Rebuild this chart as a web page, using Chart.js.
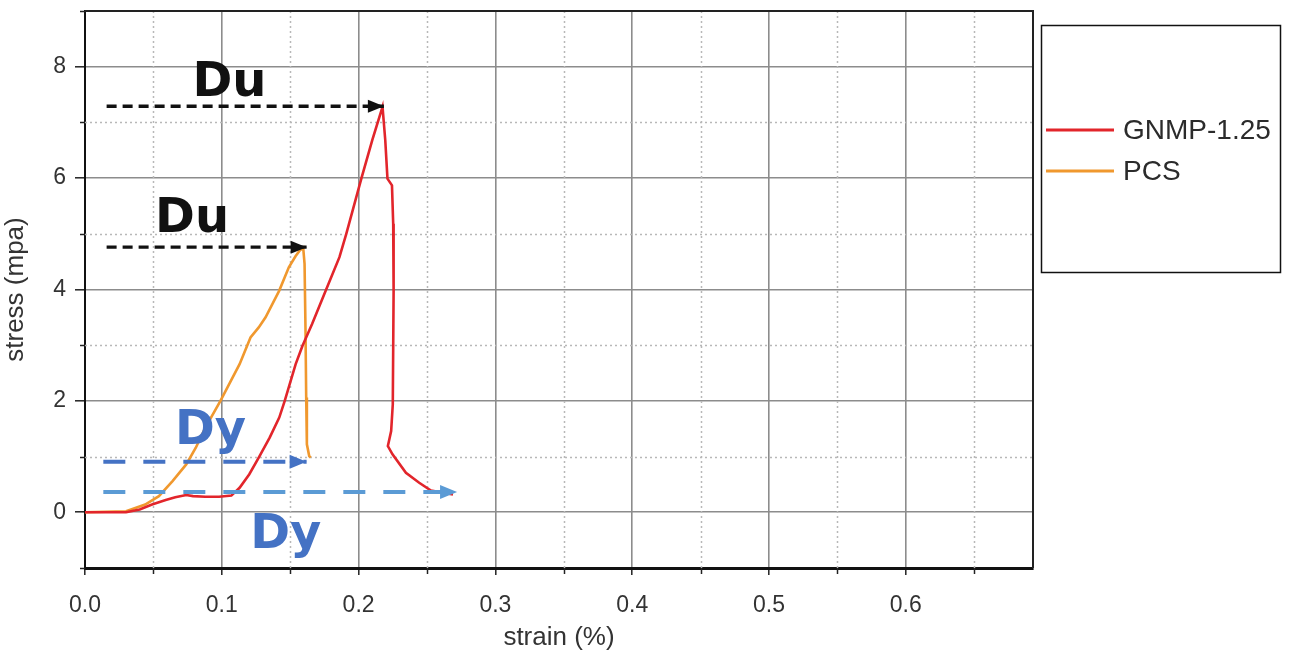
<!DOCTYPE html>
<html><head><meta charset="utf-8">
<script src="https://cdn.jsdelivr.net/npm/chart.js@4.4.1/dist/chart.umd.min.js"></script>
<style>html,body{margin:0;padding:0;background:#fff;}#wrap{width:1296px;height:653px;position:relative;}</style>
</head><body><div id="wrap"><canvas id="c"></canvas></div>
<script>
// ---- data ----
const seriesNames = ['GNMP-1.25', 'PCS'];
const gnmpStrain = [0, 0.030, 0.040, 0.049, 0.059, 0.066, 0.074, 0.079, 0.088, 0.098, 0.107, 0.113, 0.120, 0.127, 0.135, 0.142, 0.146, 0.154, 0.159, 0.166, 0.176, 0.186, 0.191, 0.202, 0.210, 0.2175, 0.2195, 0.2211, 0.2244, 0.2253, 0.2256, 0.2250, 0.2238, 0.2214, 0.2248, 0.2346, 0.2443, 0.2529, 0.2690];
const gnmpStress = [0, 0, 0.05, 0.14, 0.22, 0.27, 0.31, 0.29, 0.28, 0.28, 0.30, 0.44, 0.68, 0.98, 1.34, 1.70, 2.00, 2.66, 2.99, 3.38, 3.98, 4.58, 5.00, 5.99, 6.68, 7.28, 6.68, 5.99, 5.87, 5.18, 3.98, 1.94, 1.46, 1.19, 1.04, 0.71, 0.53, 0.39, 0.32];
const pcsStrain = [0, 0.030, 0.044, 0.054, 0.064, 0.074, 0.081, 0.088, 0.099, 0.113, 0.121, 0.127, 0.132, 0.142, 0.149, 0.154, 0.157, 0.1595, 0.1605, 0.1612, 0.1617, 0.1622, 0.1639, 0.165];
const pcsStress = [0, 0.02, 0.14, 0.29, 0.56, 0.86, 1.16, 1.52, 2.00, 2.66, 3.14, 3.32, 3.50, 3.98, 4.40, 4.60, 4.70, 4.75, 4.46, 3.26, 2.06, 1.22, 1.01, 0.98];

// dashed arrows (Du = ultimate, Dy = yield)
const arrowNames = ['Du GNMP-1.25', 'Du PCS', 'Dy PCS', 'Dy GNMP-1.25'];
const arrowStartStrain = [0.0158, 0.0158, 0.0134, 0.0134];
const arrowEndStrain = [0.2185, 0.1620, 0.1620, 0.2720];
const arrowStress = [7.29, 4.76, 0.906, 0.366];

// text labels, anchored at (strain, stress) = left edge / baseline
const labelText = ['Du', 'Du', 'Dy', 'Dy'];
const labelStrain = [0.0785, 0.0512, 0.0658, 0.1208];
const labelStress = [7.47, 5.03, 1.225, -0.64];

const xMin = 0, xMax = 0.693, xStep = 0.05;
const yMin = -1, yMax = 9, yStep = 1;

// ---- styles ----
const seriesColors = ['#e2252b', '#f0982e'];
const arrowColors = ['#111111', '#111111', '#4472c4', '#5b9bd5'];
const arrowWidths = [3.4, 3.4, 4, 4];
const arrowDashes = [[10, 6], [10, 6], [22, 18], [22, 18]];
const labelColors = ['#111111', '#111111', '#4472c4', '#4472c4'];

const pts = (xs, ys) => xs.map((x, i) => ({x: x, y: ys[i]}));
const isMajorX = v => Math.abs(v * 10 - Math.round(v * 10)) < 1e-6;
const isMajorY = v => Math.round(v) % 2 === 0;

const datasets = [
  {label: seriesNames[0], data: pts(gnmpStrain, gnmpStress), borderColor: seriesColors[0], borderWidth: 2.6, legendItem: true},
  {label: seriesNames[1], data: pts(pcsStrain, pcsStress), borderColor: seriesColors[1], borderWidth: 2.6, legendItem: true}
];
arrowNames.forEach((n, i) => {
  datasets.push({label: n, data: [{x: arrowStartStrain[i], y: arrowStress[i]}, {x: arrowEndStrain[i], y: arrowStress[i]}],
    borderColor: arrowColors[i], borderWidth: arrowWidths[i], borderDash: arrowDashes[i], arrow: true, order: -1});
});
datasets.forEach(d => { d.pointRadius = 0; d.tension = 0; d.fill = false; d.showLine = true; });

const minorGrid = {
  id: 'minorGrid',
  beforeDatasetsDraw(chart) {
    const ctx = chart.ctx, a = chart.chartArea;
    const xs = chart.scales.x, ys = chart.scales.y;
    const minorX = xs.ticks.filter(t => !isMajorX(t.value));
    const minorY = ys.ticks.filter(t => !isMajorY(t.value));
    ctx.save();
    ctx.strokeStyle = '#b8b8b8'; ctx.lineWidth = 1.5; ctx.setLineDash([2, 3]);
    minorX.forEach(t => { const p = Math.round(xs.getPixelForValue(t.value)) + 0.5; ctx.beginPath(); ctx.moveTo(p, a.top); ctx.lineTo(p, a.bottom); ctx.stroke(); });
    minorY.forEach(t => { if (t.value <= yMin || t.value >= yMax) return; const p = Math.round(ys.getPixelForValue(t.value)) + 0.5; ctx.beginPath(); ctx.moveTo(a.left, p); ctx.lineTo(a.right, p); ctx.stroke(); });
    ctx.setLineDash([]); ctx.strokeStyle = '#222'; ctx.lineWidth = 1.5;
    minorX.forEach(t => { const p = Math.round(xs.getPixelForValue(t.value)) + 0.5; ctx.beginPath(); ctx.moveTo(p, a.bottom); ctx.lineTo(p, a.bottom + 6); ctx.stroke(); });
    minorY.forEach(t => { const p = Math.round(ys.getPixelForValue(t.value)) + 0.5; ctx.beginPath(); ctx.moveTo(a.left - 5, p); ctx.lineTo(a.left, p); ctx.stroke(); });
    ctx.restore();
  }
};

const decorations = {
  id: 'decorations',
  afterDatasetsDraw(chart) {
    const ctx = chart.ctx;
    const xs = chart.scales.x, ys = chart.scales.y;
    ctx.save();
    // arrowheads
    chart.data.datasets.forEach((d, i) => {
      if (!d.arrow) return;
      const m = chart.getDatasetMeta(i).data;
      const p1 = m[m.length - 1], p0 = m[m.length - 2];
      const ang = Math.atan2(p1.y - p0.y, p1.x - p0.x);
      const L = d.borderWidth > 3.5 ? 17 : 16, W = d.borderWidth > 3.5 ? 7 : 6.5;
      ctx.save(); ctx.translate(p1.x, p1.y); ctx.rotate(ang);
      ctx.fillStyle = d.borderColor; ctx.beginPath();
      ctx.moveTo(0, 0); ctx.lineTo(-L, -W); ctx.lineTo(-L, W); ctx.closePath(); ctx.fill();
      ctx.restore();
    });
    // labels
    ctx.font = 'bold 48px "DejaVu Sans"'; ctx.textBaseline = 'alphabetic'; ctx.textAlign = 'left';
    labelText.forEach((t, i) => {
      ctx.fillStyle = labelColors[i];
      ctx.fillText(t, xs.getPixelForValue(labelStrain[i]), ys.getPixelForValue(labelStress[i]));
    });
    ctx.restore();
  },
  afterDraw(chart) {
    const ctx = chart.ctx, a = chart.chartArea;
    ctx.save();
    // top & right frame
    ctx.strokeStyle = '#222'; ctx.lineWidth = 2;
    ctx.beginPath(); ctx.moveTo(a.left, a.top); ctx.lineTo(a.right, a.top); ctx.lineTo(a.right, a.bottom); ctx.stroke();
    // legend box
    const bx = a.right + 8, by = 25, bw = 239, bh = 247;
    ctx.lineWidth = 1.5; ctx.strokeStyle = '#111';
    ctx.strokeRect(bx + 0.5, by + 0.5, bw, bh);
    ctx.font = '28px "Liberation Sans", Arial, sans-serif'; ctx.textBaseline = 'middle'; ctx.textAlign = 'left';
    let k = 0;
    chart.data.datasets.forEach(d => {
      if (!d.legendItem) return;
      const y = 130 + k * 41;
      ctx.strokeStyle = d.borderColor; ctx.lineWidth = 3;
      ctx.beginPath(); ctx.moveTo(bx + 5, y); ctx.lineTo(bx + 73, y); ctx.stroke();
      ctx.fillStyle = '#2b2b2b'; ctx.fillText(d.label, bx + 82, y + 1);
      k++;
    });
    ctx.restore();
  }
};

new Chart(document.getElementById('c'), {
  type: 'line',
  data: {datasets: datasets},
  options: {
    responsive: true, maintainAspectRatio: false, animation: false,
    layout: {padding: {top: 11, right: 263, left: 0, bottom: 0}},
    plugins: {legend: {display: false}, tooltip: {enabled: false}},
    scales: {
      x: {
        type: 'linear', min: xMin, max: xMax,
        afterFit: s => { s.height = 85; s.paddingLeft = 0; s.paddingRight = 0; },
        ticks: {stepSize: xStep, includeBounds: false, autoSkip: false, maxRotation: 0, padding: 17, color: '#333',
          font: {family: '"Liberation Sans", Arial, sans-serif', size: 23},
          callback: v => isMajorX(v) ? v.toFixed(1) : ''},
        grid: {color: c => (c.tick && isMajorX(c.tick.value)) ? '#8c8c8c' : 'rgba(0,0,0,0)', lineWidth: 1.6,
          tickColor: c => (c.tick && isMajorX(c.tick.value)) ? '#222' : 'rgba(0,0,0,0)', tickLength: 7, tickWidth: 1.5},
        border: {display: true, color: '#111', width: 3},
        title: {display: true, text: 'strain (%)', color: '#333', padding: {top: 0, bottom: 0},
          font: {family: '"Liberation Sans", Arial, sans-serif', size: 26}}
      },
      y: {
        type: 'linear', min: yMin, max: yMax,
        afterFit: s => { s.width = 85; s.paddingTop = 0; s.paddingBottom = 0; },
        ticks: {stepSize: yStep, includeBounds: false, autoSkip: false, padding: 9, color: '#333',
          font: {family: '"Liberation Sans", Arial, sans-serif', size: 23},
          callback: v => isMajorY(v) ? String(v) : ''},
        grid: {color: c => (c.tick && isMajorY(c.tick.value)) ? '#8c8c8c' : 'rgba(0,0,0,0)', lineWidth: 1.6,
          tickColor: c => (c.tick && isMajorY(c.tick.value)) ? '#222' : 'rgba(0,0,0,0)', tickLength: 10, tickWidth: 1.5},
        border: {display: true, color: '#111', width: 2},
        title: {display: true, text: 'stress (mpa)', color: '#333', padding: {top: 0, bottom: 4},
          font: {family: '"Liberation Sans", Arial, sans-serif', size: 26}}
      }
    }
  },
  plugins: [minorGrid, decorations]
});
</script></body></html>
